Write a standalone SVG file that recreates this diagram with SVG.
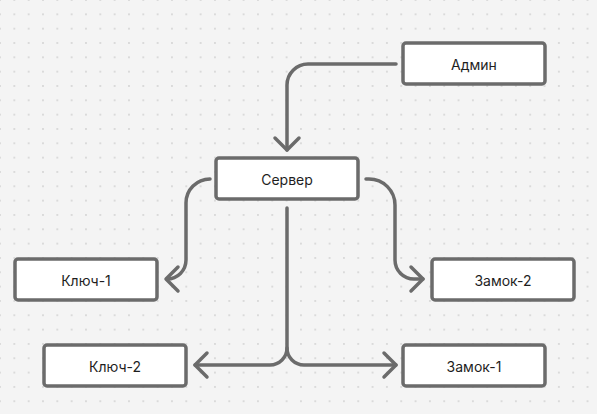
<svg xmlns="http://www.w3.org/2000/svg" width="597" height="414" viewBox="0 0 597 414">
<style>
.node rect{fill:#ffffff;stroke:#6b6b6b;stroke-width:3.5}
.node text{font-family:Inter,"Noto Sans","DejaVu Sans",sans-serif;font-size:14px;fill:#1e1e1e;text-anchor:middle;dominant-baseline:central}
.conn path{fill:none;stroke:#6b6b6b;stroke-width:3.5;stroke-linecap:round;stroke-linejoin:round}
</style>
<defs>
<pattern id="dots" x="0" y="0" width="14.33" height="14.33" patternUnits="userSpaceOnUse">
<rect x="-0.7" y="-0.7" width="1.4" height="1.4" fill="#c4c4c4"/>
<rect x="13.63" y="-0.7" width="1.4" height="1.4" fill="#c4c4c4"/>
<rect x="-0.7" y="13.63" width="1.4" height="1.4" fill="#c4c4c4"/>
<rect x="13.63" y="13.63" width="1.4" height="1.4" fill="#c4c4c4"/>
</pattern>
</defs>
<rect width="597" height="414" fill="#f4f4f4"/>
<rect width="597" height="414" fill="url(#dots)"/>
<g id="connectors" class="conn">
<path d="M396,64 H308 A21,21 0 0 0 287,85 V150"/>
<path d="M275,138 L287,150 L299,138"/>
<path d="M210,179 A24,24 0 0 0 186,203 V260 A19,19 0 0 1 167,279"/>
<path d="M178,267 L166,279 L178,291"/>
<path d="M366,179 H369 A26,26 0 0 1 395,205 V260 A19,19 0 0 0 414,279 H423"/>
<path d="M411,267 L423,279 L411,291"/>
<path d="M287,208 V348 A17,17 0 0 1 270,365 H195"/>
<path d="M287,348 A17,17 0 0 0 304,365 H396"/>
<path d="M207,353 L195,365 L207,377"/>
<path d="M384,353 L396,365 L384,377"/>
</g>
<g id="admin" class="node"><rect x="403" y="43" width="142" height="41" rx="3"/><text x="474" y="64">Админ</text></g>
<g id="server" class="node"><rect x="216" y="158" width="142" height="41" rx="3"/><text x="287" y="179">Сервер</text></g>
<g id="key1" class="node"><rect x="15" y="259" width="142" height="41" rx="3"/><text x="86" y="280">Ключ-1</text></g>
<g id="lock2" class="node"><rect x="432" y="259" width="142" height="41" rx="3"/><text x="503" y="280">Замок-2</text></g>
<g id="key2" class="node"><rect x="44" y="345" width="142" height="41" rx="3"/><text x="115" y="366">Ключ-2</text></g>
<g id="lock1" class="node"><rect x="403" y="345" width="142" height="41" rx="3"/><text x="474" y="366">Замок-1</text></g>
</svg>
